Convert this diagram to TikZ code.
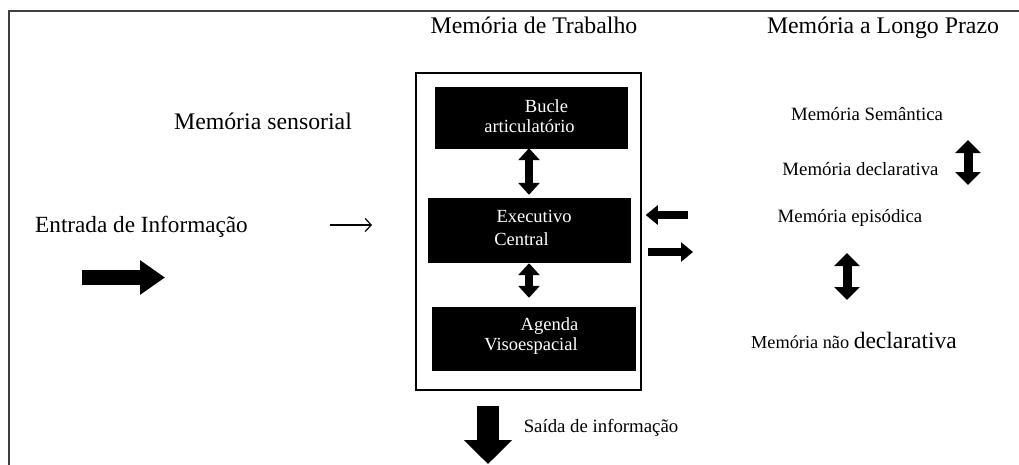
\documentclass[tikz,border=0pt]{standalone}
\usepackage{fontspec}
\setmainfont{Liberation Serif}
\usetikzlibrary{arrows.meta}
\begin{document}
\begin{tikzpicture}[x=1pt,y=-1pt,
  big/.style={font=\fontsize{23.8}{28}\selectfont, inner sep=0pt, anchor=base},
  med/.style={font=\fontsize{18.8}{22}\selectfont, inner sep=0pt, anchor=base},
  wt/.style={font=\fontsize{18.5}{22}\selectfont, inner sep=0pt, anchor=base, text=white},
  blk/.style={fill=black, draw=black, inner sep=0pt},
  frame/.style={draw=black!75, line width=2pt},
  dblarrow/.style={line width=8pt, {Triangle[width=21pt,length=12pt]}-{Triangle[width=21pt,length=12pt]}},
  ltmarrow/.style={line width=9pt, {Triangle[width=25pt,length=13pt]}-{Triangle[width=25pt,length=13pt]}},
  sidearrow/.style={line width=8pt, -{Triangle[width=19pt,length=12pt]}},
]
\useasboundingbox (0,0) rectangle (1019,464);
\draw[frame] (8.5,470) -- (8.5,11) -- (1025,11);

% titles
\node[big] (wmt) at (534,33) {Memória de Trabalho};
\node[big] (ltmt) at (883,33) {Memória a Longo Prazo};
\node[big] (sens) at (263,129) {Memória sensorial};
\node[big, font=\fontsize{23.2}{28}\selectfont] (ent) at (141.5,232) {Entrada de Informação};

% input arrows
\coordinate (e1) at (82,277.5);
\coordinate (e2) at (165,277.5);
\draw[line width=15pt, -{Triangle[width=33pt,length=25pt]}] (e1) -- (e2);
\coordinate (t1) at (330,225);
\coordinate (t2) at (372,225);
\draw[line width=1.2pt, -{Straight Barb[length=6pt,width=13pt]}] (t1) -- (t2);

% working memory
\node[draw=black, line width=1.5pt, minimum width=225pt, minimum height=317pt, inner sep=0pt] (wm) at (528.5,231.5) {};
\node[blk, minimum width=192pt, minimum height=61pt] (bucle) at (531,117.5) {};
\node[blk, minimum width=202pt, minimum height=64pt] (exec) at (529,230) {};
\node[blk, minimum width=203pt, minimum height=63pt] (agenda) at (533.5,338.5) {};
\node[wt] (t-b1) at (546.5,112) {Bucle};
\node[wt] (t-b2) at (529.5,132) {articulatório};
\node[wt] (t-e1) at (534,222) {Executivo};
\node[wt] (t-e2) at (521.5,245) {Central};
\node[wt] (t-a1) at (549.5,330) {Agenda};
\node[wt] (t-a2) at (531,350) {Visoespacial};
\draw[dblarrow, shorten >=3pt] (bucle.south -| exec.north) -- (exec.north);
\draw[dblarrow, shorten <=1pt, shorten >=9pt] (exec.south) -- (exec.south |- agenda.north);

% exchange arrows
\coordinate (l1) at (688,215);
\coordinate (r1) at (693,252);
\draw[sidearrow, shorten >=4pt] (l1) -- (wm.east |- l1);
\draw[sidearrow, shorten <=6pt] (wm.east |- r1) -- (r1);

% long-term memory
\node[med] (sem) at (867,120) {Memória Semântica};
\node[med] (decl) at (860.5,175) {Memória declarativa};
\node[med] (epi) at (850,222) {Memória episódica};
\node[inner sep=0pt, anchor=base] (ndecl) at (854,348) {\fontsize{18.3}{22}\selectfont Memória não \fontsize{23.5}{28}\selectfont declarativa};
\coordinate (d1) at (968,140);
\coordinate (d2) at (968,185);
\draw[ltmarrow] (d1) -- (d2);
\coordinate (n1) at (847,253);
\coordinate (n2) at (847,300);
\draw[ltmarrow] (n1) -- (n2);

% output
\coordinate (out) at (488,464);
\draw[line width=22pt, -{Triangle[width=47pt,length=24pt]}, shorten <=15pt] (wm.south -| out) -- (out);
\node[med] (said) at (601,432) {Saída de informação};
\end{tikzpicture}
\end{document}
